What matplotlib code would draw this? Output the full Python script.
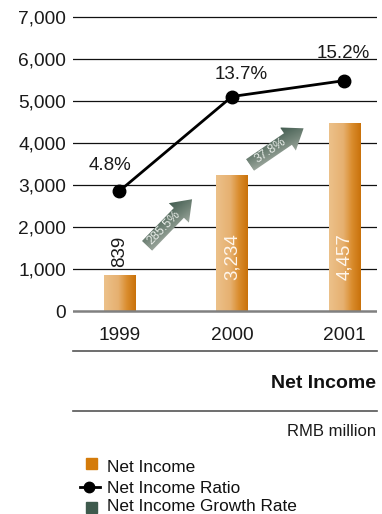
import numpy as np
import matplotlib
matplotlib.use('Agg')
import matplotlib.pyplot as plt
from matplotlib.colors import LinearSegmentedColormap
from matplotlib.patches import Polygon, Rectangle
from matplotlib.lines import Line2D
from matplotlib.transforms import Affine2D

plt.rcParams['font.family'] = ['Liberation Sans', 'DejaVu Sans']

# Net income, RMB million
years = ['1999', '2000', '2001']
net_income = [839, 3234, 4457]
income_labels = ['839', '3,234', '4,457']

# Net income ratio (%)
ratio = [4.8, 13.7, 15.2]
ratio_labels = ['4.8%', '13.7%', '15.2%']

# Year on year growth of net income
growth_labels = ['285.5%', '37.8%']

y_ticks = [0, 1000, 2000, 3000, 4000, 5000, 6000, 7000]
y_tick_labels = ['0', '1,000', '2,000', '3,000', '4,000', '5,000', '6,000', '7,000']

W, H = 382, 514
fig = plt.figure(figsize=(W / 100, H / 100), dpi=100)


def fx(x):
    return x / W


def fy(y):
    return 1 - y / H


# plot area: 42 px per 1,000
ax = fig.add_axes([fx(73), fy(315.2), (377 - 73) / W, (315.2 - 12.8) / H])
ax.set_xlim(-0.413, 2.289)
ax.set_ylim(-100, 7100)
for s in ax.spines.values():
    s.set_visible(False)

for v in y_ticks[1:]:
    ax.axhline(v, color='#111111', lw=0.9, zorder=1)
ax.axhline(0, color='#808080', lw=1.8, zorder=3)

ax.set_yticks(y_ticks, y_tick_labels)
x = np.arange(len(years))
ax.set_xticks(x, years)
ax.tick_params(axis='both', length=0, labelsize=13.8, labelcolor='#1a1a1a')
ax.tick_params(axis='y', pad=5)
ax.tick_params(axis='x', pad=8.5)

# bars with a light-to-dark orange sheen
bw = 0.276
bar_cmap = LinearSegmentedColormap.from_list(
    'bar', [(0, '#ECC18A'), (0.45, '#E6B070'), (0.72, '#DA8D2E'), (1, '#C9720A')])
grad = np.linspace(0, 1, 64).reshape(1, -1)
for xi, v in zip(x, net_income):
    ax.imshow(grad, cmap=bar_cmap, extent=(xi - bw / 2, xi + bw / 2, 0, v),
              aspect='auto', interpolation='bilinear', zorder=2)

for xi, v, lab in zip(x, net_income, income_labels):
    if v < 1000:
        ax.annotate(lab, (xi, v), xytext=(0, 9), textcoords='offset pixels',
                    rotation=90, ha='center', va='bottom', color='#1a1a1a', fontsize=13.5)
    else:
        ax.annotate(lab, (xi, 0), xytext=(0, 31), textcoords='offset pixels',
                    rotation=90, ha='center', va='bottom', color='#FFF6EC', fontsize=13.5)

# net income ratio on its own scale
ax2 = ax.twinx()
ax2.set_ylim(-6.906, 21.587)
ax2.axis('off')
ax2.plot(x, ratio, color='black', lw=2, marker='o', ms=9, zorder=5)
label_dx = [-9, 9, -1]
label_dy = [25, 22, 27]
for xi, r, lab, dx, dy in zip(x, ratio, ratio_labels, label_dx, label_dy):
    ax2.annotate(lab, (xi, r), xytext=(dx, dy), textcoords='offset pixels',
                 ha='center', va='center', fontsize=13.5, color='#1a1a1a')

# growth arrows between the bars
arrow_anchors = [(0.244, 1548), (1.16, 3476)]
arrow_angles = [46, 34.4]
shape = [(0, -7), (46, -7), (46, -14), (65, 0), (46, 14), (46, 7), (0, 7)]
arrow_cmap = LinearSegmentedColormap.from_list('arrow', ['#B3B9B1', '#738579', '#3C574B'])
gx, gy = np.meshgrid(np.linspace(0, 1, 65), np.linspace(0, 1, 28))
agrad = 0.75 * gy + 0.25 * gx
for (a_x, a_y), ang, lab in zip(arrow_anchors, arrow_angles, growth_labels):
    px0, py0 = ax.transData.transform((a_x, a_y))
    tr = Affine2D().rotate_deg(ang).translate(px0, py0)
    poly = Polygon(shape, closed=True, transform=tr, facecolor='none', edgecolor='none')
    ax.add_patch(poly)
    im = ax.imshow(agrad, cmap=arrow_cmap, extent=(0, 65, -14, 14), origin='lower',
                   aspect='auto', interpolation='bilinear', zorder=4)
    im.set_transform(tr)
    im.set_clip_path(poly)
    tx, ty = tr.transform((25, 0))
    ax.annotate(lab, xy=(tx, ty), xycoords='figure pixels', rotation=ang,
                rotation_mode='anchor', ha='center', va='center',
                fontsize=9, color='#E8ECE8', zorder=6)

ax.set_xlim(-0.413, 2.289)
ax.set_ylim(-100, 7100)

# title block under the chart
fig.add_artist(Line2D([fx(73), fx(377)], [fy(351), fy(351)], color='#555555', lw=1.2))
fig.add_artist(Line2D([fx(73), fx(377)], [fy(411), fy(411)], color='#555555', lw=1.2))
fig.text(fx(376), fy(388), 'Net Income', ha='right', va='baseline',
         fontsize=14, fontweight='bold', color='#111111')
fig.text(fx(376), fy(436), 'RMB million', ha='right', va='baseline',
         fontsize=12, color='#1a1a1a')

# legend
fig.add_artist(Rectangle((fx(86), fy(469)), 11 / W, 11 / H, color='#D47B0A'))
fig.add_artist(Line2D([fx(80), fx(100)], [fy(487), fy(487)], color='black', lw=2))
fig.add_artist(Line2D([fx(89)], [fy(487)], marker='o', ms=7.5, color='black'))
fig.add_artist(Rectangle((fx(86), fy(513)), 11 / W, 11 / H, color='#3E5A4D'))
legend_labels = ['Net Income', 'Net Income Ratio', 'Net Income Growth Rate']
for lab, base in zip(legend_labels, [472, 493, 511]):
    fig.text(fx(107), fy(base), lab, ha='left', va='baseline', fontsize=12.4, color='#111111')

fig.savefig('out.png', dpi=100)
